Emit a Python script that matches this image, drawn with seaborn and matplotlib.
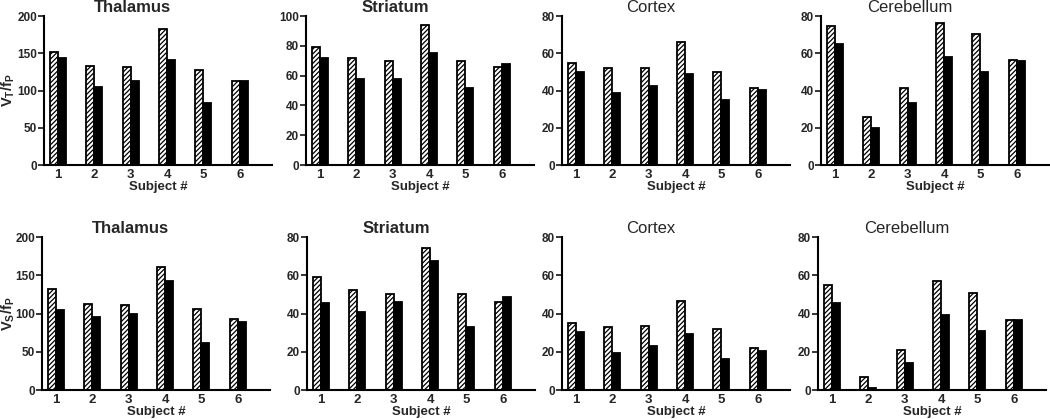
"""
V_T/f_P and V_S/f_P per subject, two methods, four brain regions
"""
import matplotlib
matplotlib.use('Agg')
import matplotlib.pyplot as plt
import seaborn as sns
import pandas as pd

subjects = ['1', '2', '3', '4', '5', '6']
regions = ['Thalamus', 'Striatum', 'Cortex', 'Cerebellum']
series = ['hatched', 'solid']

# top row, V_T/f_P
vt_hatched_thalamus = [152, 133, 132, 183, 127, 113]
vt_solid_thalamus = [143, 105, 113, 141, 83, 113]
vt_hatched_striatum = [79, 72, 70, 94, 70, 66]
vt_solid_striatum = [72, 58, 58, 75, 52, 68]
vt_hatched_cortex = [54.6, 52, 52, 65.8, 49.8, 41.4]
vt_solid_cortex = [49.8, 38.6, 42.3, 48.9, 35, 40.5]
vt_hatched_cerebellum = [74.7, 25.8, 41.2, 76.4, 70.2, 56.4]
vt_solid_cerebellum = [65.2, 20, 33.2, 58.1, 50.1, 55.6]

# bottom row, V_S/f_P
vs_hatched_thalamus = [132, 113, 111, 161, 106, 92.5]
vs_solid_thalamus = [104, 95, 100, 142, 62, 89.5]
vs_hatched_striatum = [58.9, 52.4, 50.1, 74.4, 50.1, 46.2]
vs_solid_striatum = [45.4, 41, 46, 67.3, 32.9, 48.4]
vs_hatched_cortex = [35.1, 32.8, 33.3, 46.7, 32.1, 21.7]
vs_solid_cortex = [30.1, 19.4, 23.2, 29.4, 16, 20.5]
vs_hatched_cerebellum = [55.1, 6.6, 21, 57.2, 50.7, 36.8]
vs_solid_cerebellum = [45.7, 0.9, 14.2, 39.1, 30.6, 36.4]

y_max_top = [200, 100, 80, 80]
y_step_top = [50, 20, 20, 20]
y_max_bottom = [200, 80, 80, 80]
y_step_bottom = [50, 20, 20, 20]

top_rows = [
    (vt_hatched_thalamus, vt_solid_thalamus),
    (vt_hatched_striatum, vt_solid_striatum),
    (vt_hatched_cortex, vt_solid_cortex),
    (vt_hatched_cerebellum, vt_solid_cerebellum),
]
bottom_rows = [
    (vs_hatched_thalamus, vs_solid_thalamus),
    (vs_hatched_striatum, vs_solid_striatum),
    (vs_hatched_cortex, vs_solid_cortex),
    (vs_hatched_cerebellum, vs_solid_cerebellum),
]

sns.set_style('ticks')
plt.rcParams['font.family'] = ['Liberation Sans', 'DejaVu Sans']
plt.rcParams['mathtext.fontset'] = 'custom'
plt.rcParams['mathtext.bf'] = 'Liberation Sans:bold'
plt.rcParams['mathtext.rm'] = 'Liberation Sans'
plt.rcParams['hatch.linewidth'] = 0.9

W, H = 1050, 419
fig = plt.figure(figsize=(W / 100, H / 100), dpi=100)


def make_df(hatched, solid):
    return pd.DataFrame({
        'Subject': subjects * 2,
        'Value': list(hatched) + list(solid),
        'Series': [series[0]] * 6 + [series[1]] * 6,
    })


def panel(rect, name, hatched, solid, ymax, ystep, ylabel=None):
    l, t, r, b = rect
    ax = fig.add_axes([l / W, 1 - b / H, (r - l) / W, (b - t) / H])
    sns.barplot(data=make_df(hatched, solid), x='Subject', y='Value',
                hue='Series', hue_order=series, order=subjects,
                palette=['white', 'black'], width=0.44, gap=0,
                edgecolor='black', linewidth=1.3, saturation=1,
                legend=False, ax=ax)
    for p in ax.containers[0]:
        p.set_hatch('///////')

    ax.set_xlim(-0.39, 5.89)
    ax.set_ylim(0, ymax)
    ax.set_yticks(range(0, ymax + 1, ystep))
    sns.despine(ax=ax)
    for s in ['left', 'bottom']:
        ax.spines[s].set_linewidth(1.5)
        ax.spines[s].set_color('black')
    ax.tick_params(axis='y', length=4, width=1.3, pad=1, labelsize=8.5)
    ax.tick_params(axis='x', length=0, pad=3, labelsize=9.5)
    for lab in ax.get_xticklabels() + ax.get_yticklabels():
        lab.set_fontweight('bold')
    ax.set_xlabel('Subject #', fontsize=9.5, fontweight='bold', labelpad=0)
    if ylabel:
        ax.set_ylabel(ylabel, fontsize=10.5)
        # right edge of the rotated label sits 16 px from the figure edge
        ax.yaxis.set_label_coords(-(l - 17) / (r - l), 0.5)
    else:
        ax.set_ylabel('')
    weight = 'bold' if name in ('Thalamus', 'Striatum') else 'normal'
    ax.text(0.39, 1 + 9 / (b - t), name, transform=ax.transAxes,
            ha='center', va='center', fontsize=12, fontweight=weight)
    return ax


top_lefts = [44, 306, 562, 821]
bottom_lefts = [42, 307, 562, 818]
axis_w = 228

for i, name in enumerate(regions):
    h, s = top_rows[i]
    panel((top_lefts[i], 16, top_lefts[i] + axis_w, 165), name, h, s,
          y_max_top[i], y_step_top[i],
          r'$\mathbf{V_T/f_P}$' if i == 0 else None)
    h, s = bottom_rows[i]
    panel((bottom_lefts[i], 237, bottom_lefts[i] + axis_w, 390), name, h, s,
          y_max_bottom[i], y_step_bottom[i],
          r'$\mathbf{V_S/f_P}$' if i == 0 else None)

plt.savefig('out.png', dpi=100)
plt.close()
